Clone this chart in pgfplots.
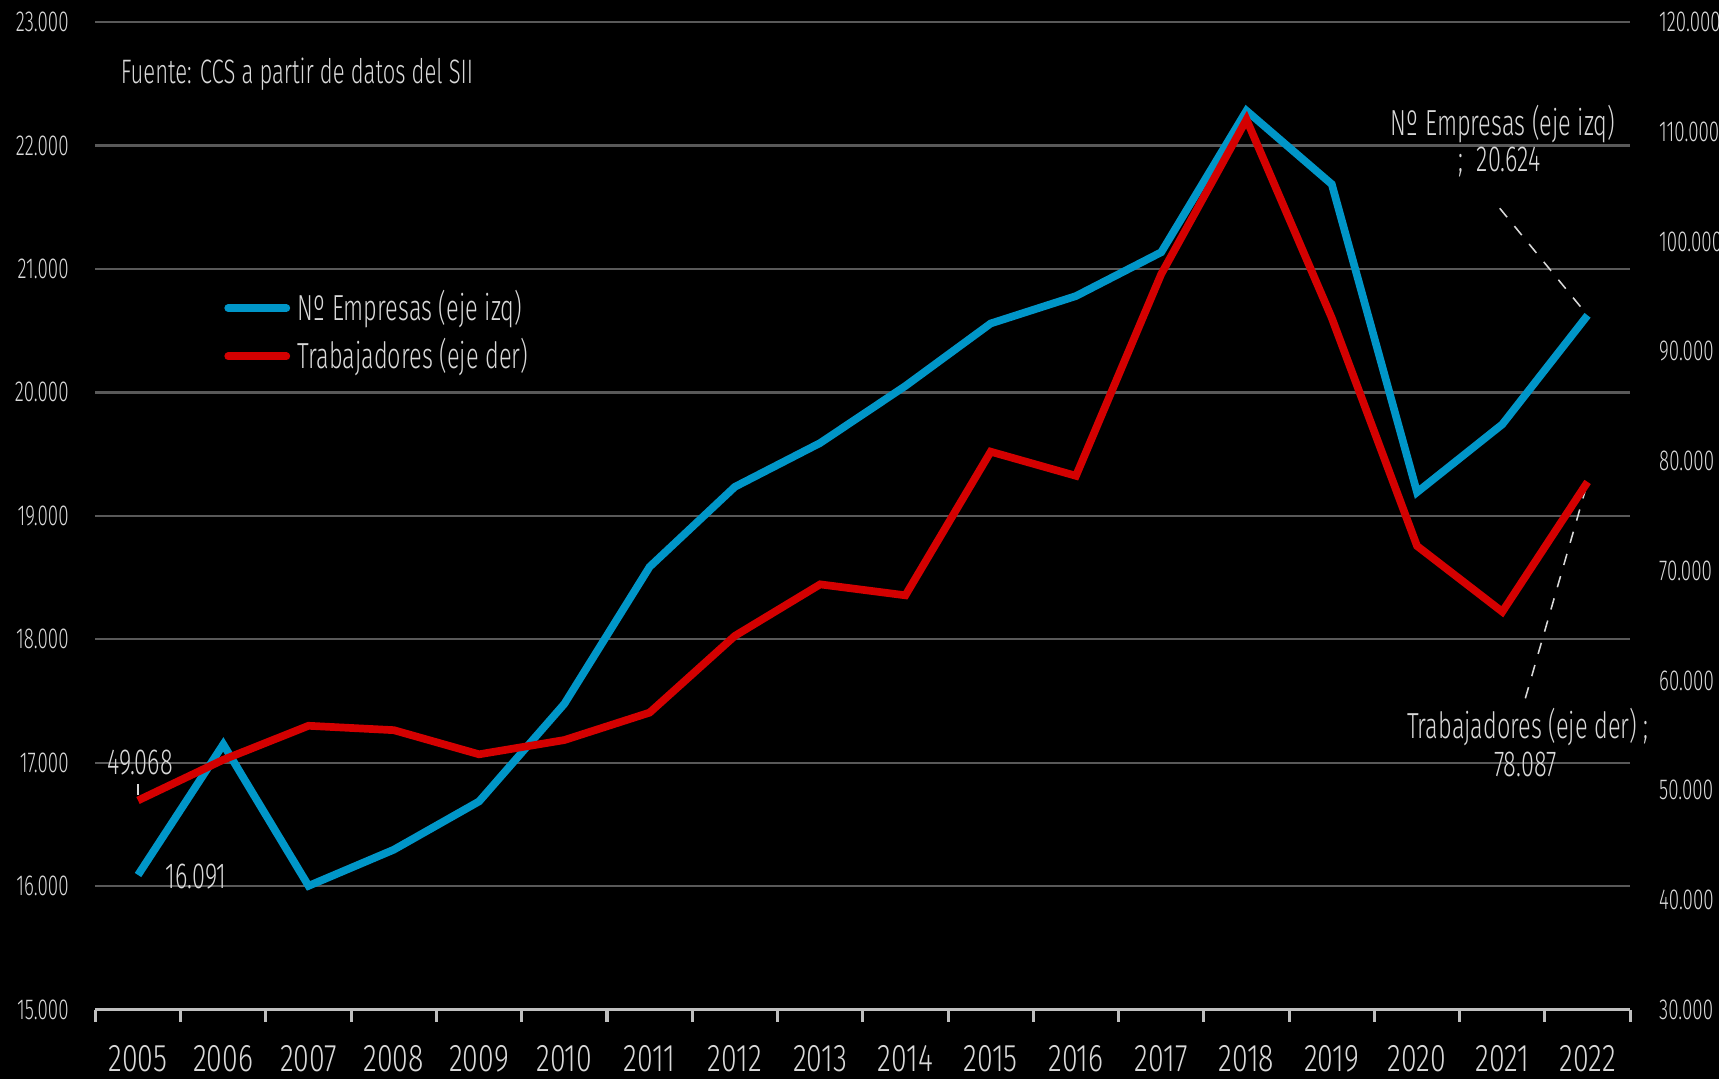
\documentclass[border=0pt]{standalone}
\usepackage{fontspec}
\IfFontExistsTF{Fira Sans Light}{%
  \setmainfont{Fira Sans Light}[FakeStretch=0.65]%
  \newfontfamily\xfont{Fira Sans Light}[FakeStretch=0.74]}{%
  \setmainfont{Fira Sans}[FakeStretch=0.65]%
  \newfontfamily\xfont{Fira Sans}[FakeStretch=0.74]}
\usepackage{pgfplots}
\pgfplotsset{compat=1.18}
\definecolor{cblue}{HTML}{0096C8}
\definecolor{cred}{HTML}{D40000}
\definecolor{gridc}{HTML}{595959}
\definecolor{axc}{HTML}{BFBFBF}
\definecolor{txt}{HTML}{D9D9D9}
\pgfplotsset{
  base/.style={
    width=140mm, height=90.1mm, scale only axis,
    xmin=-0.5, xmax=17.5,
    scaled y ticks=false,
    yticklabel={\pgfmathprintnumber[fixed,precision=0,1000 sep={.},assume math mode=true]{\tick}},
    yticklabel style={font=\fontsize{7.5}{8}\selectfont, text=txt},
    ytick style={draw=none},
    y axis line style={draw=none},
  }
}
\begin{document}
\begin{tikzpicture}
\fill[black] (-8.7mm,-6.3mm) rectangle (148.1mm,92.1mm);
\useasboundingbox (-8.7mm,-6.3mm) rectangle (148.1mm,92.1mm);
\begin{axis}[base, clip=false,
  ymin=15000, ymax=23000, ytick={15000,16000,...,23000},
  axis x line*=bottom, axis y line*=left,
  x axis line style={draw=axc, line width=0.8pt},
  ymajorgrids, grid style={draw=gridc, line width=0.6pt},
  xtick={0,...,17},
  xticklabels={2005,2006,2007,2008,2009,2010,2011,2012,2013,2014,2015,2016,2017,2018,2019,2020,2021,2022},
  xticklabel style={font=\xfont\fontsize{10}{11}\selectfont, text=txt, inner sep=0pt, yshift=-3.2mm},
  major tick length=0pt,
  minor xtick={-0.5,0.5,...,17.5},
  minor tick length=1.1mm, tick align=outside,
  minor x tick style={draw=axc, line width=0.8pt},
  major x tick style={draw=none},
  yticklabel style={xshift=-1.2mm},
  legend style={at={(0.076,0.745)}, anchor=north west, draw=none, fill=none,
    text=txt, font=\fontsize{9.4}{10}\selectfont, row sep=-0.3mm},
  legend cell align=left,
  legend image code/.code={\draw[#1, line cap=round] (0mm,0mm) -- (5.3mm,0mm);},
]
\addplot[cblue, line width=2pt] coordinates {
(0,16091) (1,17149) (2,16003) (3,16296) (4,16687) (5,17477) (6,18587) (7,19235) (8,19590)
(9,20052) (10,20558) (11,20780) (12,21135) (13,22281) (14,21686) (15,19191) (16,19741) (17,20624)};
\addlegendentry{Nº Empresas (eje izq)}
\addlegendimage{cred, line width=2pt}
\addlegendentry{Trabajadores (eje der)}
\node[anchor=west, text=txt, font=\fontsize{8.8}{10}\selectfont] at (axis cs:-0.36,22580) {Fuente: CCS a partir de datos del SII};
\node[text=txt, font=\fontsize{9.4}{10}\selectfont] at (axis cs:0.027,16998) {49.068};
\draw[txt, dashed, line width=0.4pt] (axis cs:0,16830) -- (axis cs:0,16710);
\node[text=txt, font=\fontsize{9.4}{10}\selectfont] at (axis cs:0.683,16074) {16.091};
\node[text=txt, font=\fontsize{9.4}{10}\selectfont] at (axis cs:16.01,22174) {Nº Empresas (eje izq)};
\node[text=txt, font=\fontsize{9.4}{10}\selectfont] at (axis cs:15.97,21863) {;\ \ 20.624};
\draw[txt, dashed, line width=0.4pt] (axis cs:15.97,21491) -- (axis cs:17,20624);
\node[text=txt, font=\fontsize{9.4}{10}\selectfont] at (axis cs:16.30,17291) {Trabajadores (eje der) ;};
\node[text=txt, font=\fontsize{9.4}{10}\selectfont] at (axis cs:16.27,16989) {78.087};
\draw[txt, dashed, line width=0.4pt] (axis cs:16.27,17522) -- (axis cs:17,19271);
\end{axis}
\begin{axis}[base,
  ymin=30000, ymax=120000, ytick={30000,40000,...,120000},
  axis y line*=right, axis x line=none,
  yticklabel style={xshift=1.4mm},
]
\addplot[cred, line width=2pt] coordinates {
(0,49068) (1,52774) (2,55870) (3,55470) (4,53270) (5,54570) (6,57070) (7,64062) (8,68756)
(9,67757) (10,80843) (11,78645) (12,97025) (13,111110) (14,93030) (15,72253) (16,66259) (17,78087)};
\end{axis}
\end{tikzpicture}
\end{document}
